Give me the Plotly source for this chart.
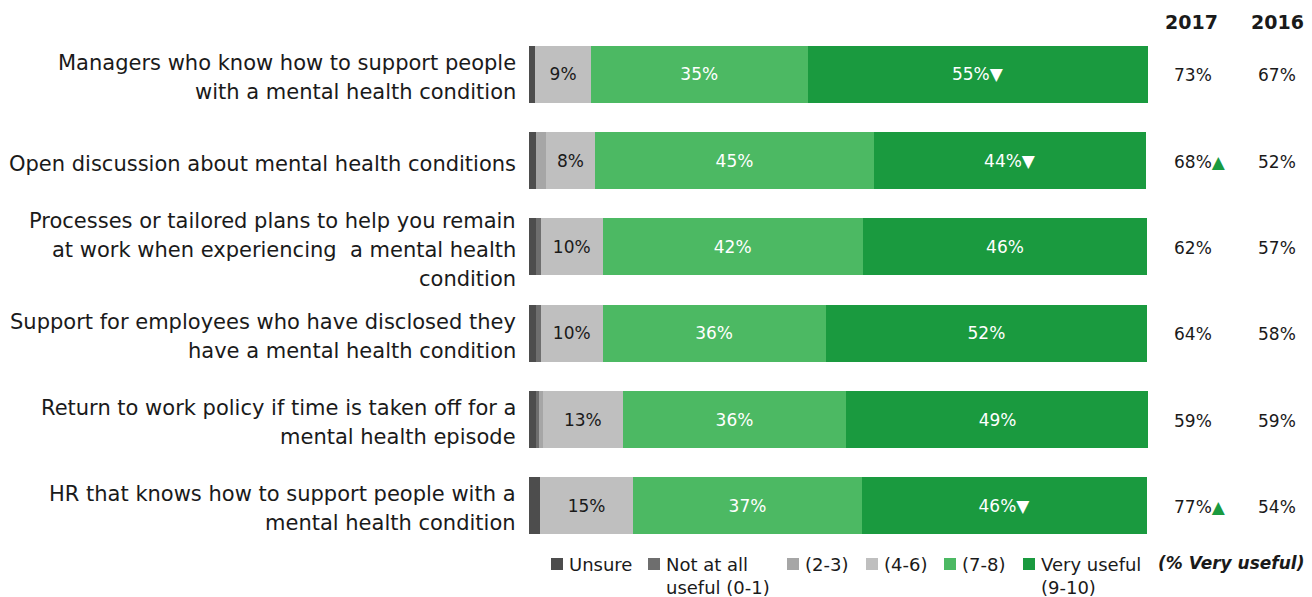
import plotly.graph_objects as go

# Survey items (line breaks mark how each label wraps)
categories = [
    "Managers who know how to support people<br>with a mental health condition",
    "Open discussion about mental health conditions",
    "Processes or tailored plans to help you remain<br>at work when experiencing  a mental health<br>condition",
    "Support for employees who have disclosed they<br>have a mental health condition",
    "Return to work policy if time is taken off for a<br>mental health episode",
    "HR that knows how to support people with a<br>mental health condition",
]

# Share of responses per usefulness band (%)
unsure = [1.0, 1.2, 1.1, 1.1, 1.1, 1.8]
not_at_all = [0.0, 0.0, 0.8, 0.8, 0.5, 0.0]
score_2_3 = [0.0, 1.5, 0.0, 0.0, 0.6, 0.0]
score_4_6 = [9, 8, 10, 10, 13, 15]
score_7_8 = [35, 45, 42, 36, 36, 37]
very_useful = [55, 44, 46, 52, 49, 46]
very_useful_change = ["down", "down", "", "", "", "down"]

# "% Very useful" comparison columns
years = ["2017", "2016"]
pct_2017 = [73, 68, 62, 64, 59, 77]
change_2017 = ["", "up", "", "", "", "up"]
pct_2016 = [67, 52, 57, 58, 59, 54]

series_names = ["Unsure", "Not at all<br>useful (0-1)", "(2-3)", "(4-6)", "(7-8)", "Very useful<br>(9-10)"]
series_colors = ["#4d4d4d", "#6e6e6e", "#a6a6a6", "#bfbfbf", "#4cb963", "#1a9a3f"]

FONT = "DejaVu Sans"
W, H = 1312, 597
ML, MR, MT, MB = 529, 164, 31, 48
PW, PH = W - ML - MR, H - MT - MB


def px_x(x):
    return (x - ML) / PW


def px_y(y):
    return (H - MB - y) / PH


arrow = {"down": "\u25bc", "up": "\u25b2", "": ""}

fig = go.Figure()
series_values = [unsure, not_at_all, score_2_3, score_4_6, score_7_8, very_useful]
for i, (name, vals, col) in enumerate(zip(series_names, series_values, series_colors)):
    if i == 3:
        text = [f"{v:.0f}%" for v in vals]
        tcol = "#1a1a1a"
    elif i == 4:
        text = [f"{v:.0f}%" for v in vals]
        tcol = "white"
    elif i == 5:
        text = [f"{v:.0f}%{arrow[c]}" for v, c in zip(vals, very_useful_change)]
        tcol = "white"
    else:
        text = None
        tcol = "white"
    fig.add_trace(go.Bar(
        y=categories, x=vals, orientation="h", name=name,
        marker=dict(color=col, line=dict(width=0)),
        text=text, textposition="inside" if text else "none",
        insidetextanchor="middle", textangle=0,
        textfont=dict(family=FONT, size=17, color=tcol),
        showlegend=False, hoverinfo="skip",
    ))

annotations = []
shapes = []

# Category labels, one annotation per wrapped line
LINE = 29
for cat in categories:
    lines = cat.split("<br>")
    n = len(lines)
    for k, ln in enumerate(lines):
        off = (k - (n - 1) / 2) * LINE + 3
        annotations.append(dict(
            xref="paper", yref="y", x=0, y=cat, xanchor="right", yanchor="middle",
            xshift=-11, yshift=-off, text=ln, showarrow=False,
            font=dict(family=FONT, size=21, color="#1a1a1a"),
        ))

# Year headers
for yr, cx in zip(years, [1191, 1277]):
    annotations.append(dict(
        xref="paper", yref="paper", x=px_x(cx), y=px_y(22), xanchor="center", yanchor="middle",
        text=f"<b>{yr}</b>", showarrow=False,
        font=dict(family=FONT, size=19, color="#1a1a1a"),
    ))

# Year values
for cat, v17, c17, v16 in zip(categories, pct_2017, change_2017, pct_2016):
    t17 = f"{v17}%"
    if c17:
        t17 += f"<span style='color:#1a9a3f'>{arrow[c17]}</span>"
    annotations.append(dict(
        xref="paper", yref="y", x=px_x(1172), y=cat, xanchor="left", yanchor="middle",
        yshift=-1, text=t17, showarrow=False,
        font=dict(family=FONT, size=17, color="#1a1a1a"),
    ))
    annotations.append(dict(
        xref="paper", yref="y", x=px_x(1277), y=cat, xanchor="center", yanchor="middle",
        yshift=-1, text=f"{v16}%", showarrow=False,
        font=dict(family=FONT, size=17, color="#1a1a1a"),
    ))

# Legend drawn as swatches plus labels
swatch_x = [551, 648, 787, 866, 944, 1023]
label_x = [567, 664, 803, 882, 960, 1039]
for name, col, sx, lx in zip(series_names, series_colors, swatch_x, label_x):
    shapes.append(dict(
        type="rect", xref="paper", yref="paper",
        x0=px_x(sx), x1=px_x(sx + 12), y0=px_y(570), y1=px_y(558),
        fillcolor=col, line=dict(width=0),
    ))
    annotations.append(dict(
        xref="paper", yref="paper", x=px_x(lx), y=px_y(552), xanchor="left", yanchor="top",
        text=name, showarrow=False, align="left",
        font=dict(family=FONT, size=18, color="#1a1a1a"),
    ))
annotations.append(dict(
    xref="paper", yref="paper", x=px_x(1156), y=px_y(563), xanchor="left", yanchor="middle",
    text="<b><i>(% Very useful)</i></b>", showarrow=False,
    font=dict(family=FONT, size=17, color="#1a1a1a"),
))

fig.update_layout(
    width=W, height=H,
    margin=dict(l=ML, r=MR, t=MT, b=MB, pad=0),
    barmode="stack", bargap=0.34,
    plot_bgcolor="white", paper_bgcolor="white",
    xaxis=dict(range=[0, 100], visible=False, fixedrange=True),
    yaxis=dict(autorange="reversed", showticklabels=False, showgrid=False,
               zeroline=False, fixedrange=True),
    annotations=annotations, shapes=shapes,
    uniformtext=dict(minsize=10, mode="show"),
)

fig.write_html("out.html")
